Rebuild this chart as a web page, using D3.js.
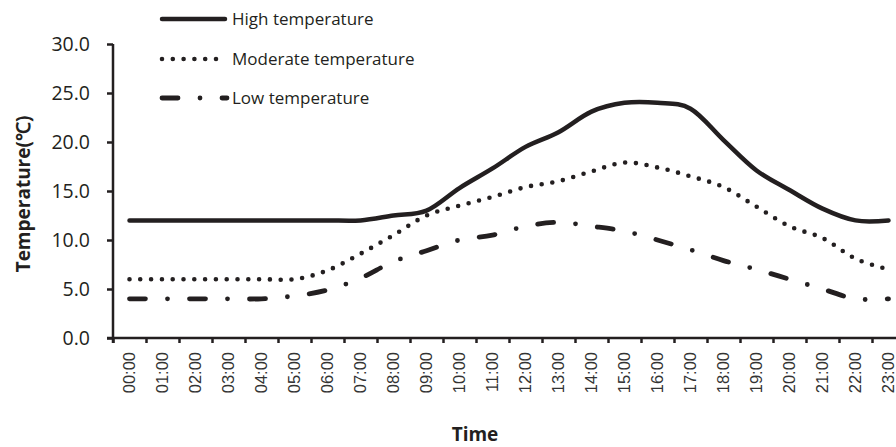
<!DOCTYPE html>
<html>
<head>
<meta charset="utf-8">
<script src="https://cdn.jsdelivr.net/npm/d3@7"></script>
<style>
  body { margin: 0; background: #fff; }
  svg { display: block; font-family: "Open Sans", sans-serif; }
</style>
</head>
<body>
<div id="chart"></div>
<script>
const hours = ["00:00","01:00","02:00","03:00","04:00","05:00","06:00","07:00","08:00","09:00","10:00","11:00",
  "12:00","13:00","14:00","15:00","16:00","17:00","18:00","19:00","20:00","21:00","22:00","23:00"];
const highTemp = [12.0,12.0,12.0,12.0,12.0,12.0,12.0,12.0,12.5,13.0,15.3,17.3,19.5,21.0,23.1,24.0,24.0,23.4,20.2,17.1,15.1,13.2,12.0,12.0];
const moderateTemp = [6.0,6.0,6.0,6.0,6.0,6.0,6.9,8.6,10.5,12.5,13.5,14.4,15.4,16.0,17.0,17.9,17.4,16.5,15.4,13.4,11.4,10.2,8.1,7.0];
const lowTemp = [4.0,4.0,4.0,4.0,4.0,4.3,4.9,6.1,7.8,8.9,10.0,10.5,11.4,11.8,11.4,10.9,10.0,9.0,7.9,7.0,6.0,5.0,4.0,4.0];
const yTicks = [0,5,10,15,20,25,30];
const seriesNames = ["High temperature","Moderate temperature","Low temperature"];

const W = 896, H = 447;
const plotLeft = 113, plotRight = 905, plotTop = 44, plotBottom = 338;

const svg = d3.select("#chart").append("svg")
  .attr("width", W)
  .attr("height", H);

const x = d3.scaleBand()
  .domain(hours)
  .range([plotLeft, plotRight]);

const xEdge = d3.scaleLinear()
  .domain([0, hours.length])
  .range([plotLeft, plotRight]);

const y = d3.scaleLinear()
  .domain([0, 30])
  .range([plotBottom, plotTop]);

const styles = [
  { width: 4.5, dash: null, cap: "round" },
  { width: 4.6, dash: "0,10.8", cap: "round" },
  { width: 4.8, dash: "16,22,0,22", cap: "round" }
];

const series = [highTemp, moderateTemp, lowTemp];

const line = d3.line()
  .x((d, i) => x(hours[i]) + x.bandwidth() / 2)
  .y(d => y(d))
  .curve(d3.curveCardinal.tension(0));

// lines
series.forEach((vals, k) => {
  svg.append("path")
    .datum(vals)
    .attr("fill", "none")
    .attr("stroke", "#231f20")
    .attr("stroke-width", styles[k].width)
    .attr("stroke-linecap", styles[k].cap)
    .attr("stroke-linejoin", "round")
    .attr("stroke-dasharray", styles[k].dash)
    .attr("d", line);
});

// y axis
const yAxis = svg.append("g")
  .attr("transform", `translate(${plotLeft},0)`)
  .call(d3.axisLeft(y).tickValues(yTicks).tickFormat(d3.format(".1f")).tickSize(6).tickPadding(17));
yAxis.select(".domain").attr("stroke", "#231f20").attr("stroke-width", 2.5)
  .attr("d", `M0,${plotTop}V${plotBottom + 5}`);
yAxis.selectAll(".tick line").attr("stroke", "#231f20").attr("stroke-width", 2.5);
yAxis.selectAll(".tick text").attr("fill", "#231f20").style("font-size", "19.5px").style("font-family", "Open Sans");

// x axis: tick marks between categories
const xTicks = svg.append("g")
  .attr("transform", `translate(0,${plotBottom})`)
  .call(d3.axisBottom(xEdge).ticks(hours.length).tickSize(5).tickFormat(""));
xTicks.select(".domain").attr("stroke", "#231f20").attr("stroke-width", 2.5)
  .attr("d", `M${plotLeft - 6},0H${plotRight}`);
xTicks.selectAll(".tick line").attr("stroke", "#231f20").attr("stroke-width", 2.5);

// x axis labels
const xAxis = svg.append("g")
  .attr("transform", `translate(0,${plotBottom})`)
  .call(d3.axisBottom(x).tickSize(0));
xAxis.select(".domain").remove();
xAxis.selectAll(".tick text")
  .attr("fill", "#333")
  .style("font-size", "16.5px")
  .attr("text-anchor", "end")
  .attr("dy", "0.35em")
  .attr("transform", "translate(0,14) rotate(-90)")
  .attr("x", 0)
  .attr("y", 0);

// axis titles
svg.append("text")
  .attr("x", 475)
  .attr("y", 441)
  .attr("text-anchor", "middle")
  .style("font-size", "19px")
  .style("font-weight", "bold")
  .attr("fill", "#231f20")
  .text("Time");

svg.append("text")
  .attr("transform", `translate(30,194) rotate(-90)`)
  .attr("text-anchor", "middle")
  .style("font-size", "19px")
  .style("font-weight", "bold")
  .attr("fill", "#231f20")
  .text("Temperature(\u2103)");

// legend
const legendY = [19, 59, 98];
const legendEnd = [225, 217, 227];
const legend = svg.append("g");
seriesNames.forEach((name, k) => {
  legend.append("line")
    .attr("x1", 162).attr("x2", legendEnd[k])
    .attr("y1", legendY[k]).attr("y2", legendY[k])
    .attr("stroke", "#231f20")
    .attr("stroke-width", styles[k].width)
    .attr("stroke-linecap", styles[k].cap)
    .attr("stroke-dasharray", styles[k].dash);
  legend.append("text")
    .attr("x", 232)
    .attr("y", legendY[k])
    .attr("dy", "0.35em")
    .attr("fill", "#231f20")
    .style("font-size", "17px")
    .text(name);
});
</script>
</body>
</html>
